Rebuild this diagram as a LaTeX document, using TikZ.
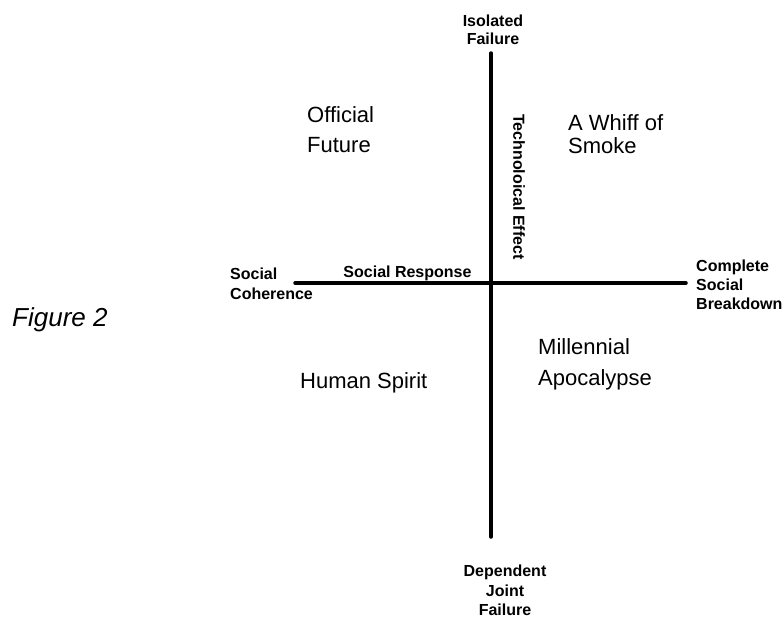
\documentclass[tikz,border=0pt]{standalone}
\usepackage{fontspec}
\setmainfont{Liberation Sans}
\tikzset{
  axis/.style={line width=3.5pt, line cap=round},
  pole/.style={font=\fontsize{16}{19}\selectfont\bfseries, inner sep=0pt},
  scenario/.style={font=\fontsize{22}{30}\selectfont, align=left, inner sep=0pt}
}
\begin{document}
\begin{tikzpicture}[x=1pt,y=-1pt]
\useasboundingbox (0,0) rectangle (783,619);
\coordinate (top) at (491,53);
\coordinate (bottom) at (491,537);
\coordinate (left) at (295,283);
\coordinate (right) at (686,283);
\draw[axis] (top) -- (bottom);
\draw[axis] (left) -- (right);
\node[pole, align=center, anchor=north, font=\fontsize{16}{18}\selectfont\bfseries] (isolated) at (493,15) {Isolated\\Failure};
\node[pole, align=center, anchor=north, font=\fontsize{16}{19.5}\selectfont\bfseries] (dependent) at (505,565) {Dependent\\Joint\\Failure};
\node[pole, align=left, anchor=north west, font=\fontsize{16}{20}\selectfont\bfseries] (coherence) at (230,268) {Social\\Coherence};
\node[pole, align=left, anchor=north west] (breakdown) at (696,260) {Complete\\Social\\Breakdown};
\node[pole, anchor=base] (response) at (407.5,277) {Social Response};
\node[pole, rotate=-90] (effect) at (519,187) {Technoloical Effect};
\node[scenario, anchor=north west] (official) at (307,106) {Official\\Future};
\node[scenario, anchor=north west, font=\fontsize{22}{23}\selectfont] (whiff) at (568,114) {A Whiff of\\Smoke};
\node[scenario, anchor=base west] (spirit) at (300,388) {Human Spirit};
\node[scenario, anchor=north west, font=\fontsize{22}{31}\selectfont] (millennial) at (538,338) {Millennial\\Apocalypse};
\node[inner sep=0pt, anchor=base west, font=\fontsize{26}{30}\selectfont\itshape] (caption) at (12,326) {Figure 2};
\end{tikzpicture}
\end{document}
